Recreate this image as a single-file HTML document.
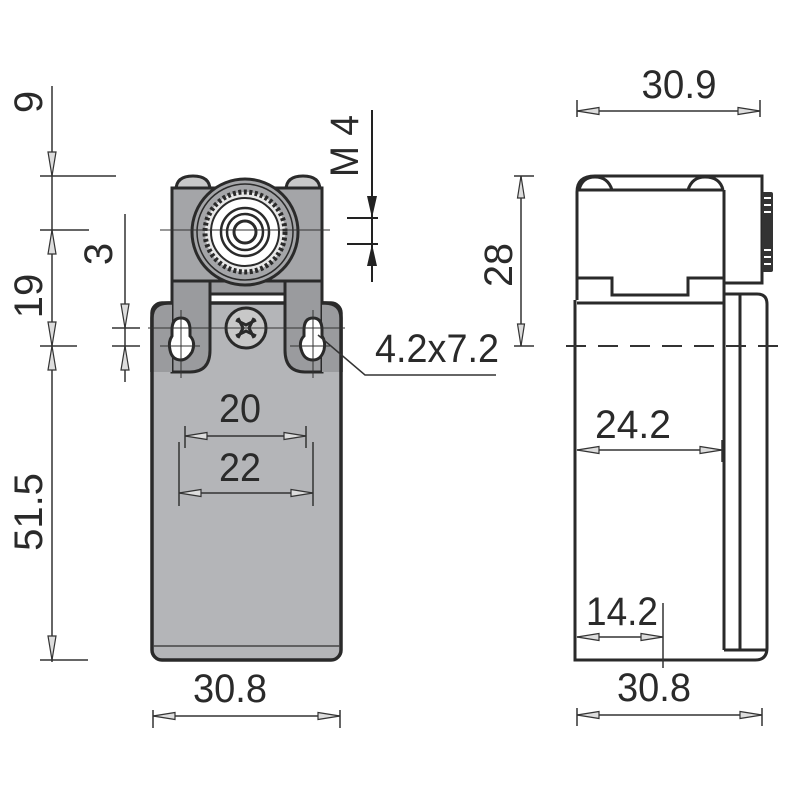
<!DOCTYPE html>
<html><head><meta charset="utf-8"><style>
html,body{margin:0;padding:0;background:#fff;width:800px;height:800px;overflow:hidden}
text{font-family:"Liberation Sans",sans-serif;fill:#2a2a2a;font-size:40px}
</style></head><body>
<svg width="800" height="800" viewBox="0 0 800 800" xmlns="http://www.w3.org/2000/svg">
<defs>
<marker id="a" viewBox="0 0 24 10" refX="23" refY="5" markerWidth="24" markerHeight="10" markerUnits="userSpaceOnUse" orient="auto-start-reverse">
<polygon points="23,5 1,1.5 1,8.5" fill="#ddd" stroke="#333" stroke-width="1.2"/>
</marker>
</defs>
<g stroke="#333" stroke-width="1.5" fill="none">
<line x1="52" y1="86" x2="52" y2="662"/>
<line x1="40" y1="176" x2="116" y2="176"/>
<line x1="40" y1="230" x2="89" y2="230"/>
<line x1="40" y1="346" x2="77" y2="346"/>
<line x1="40" y1="660" x2="88" y2="660"/>
<line x1="125" y1="214" x2="125" y2="382"/>
<line x1="112" y1="328" x2="140" y2="328"/>
<line x1="112" y1="346" x2="140" y2="346"/>
</g>
<g stroke="#333" stroke-width="1.2">
<polygon points="52,176 48,152 56,152" fill="#ddd"/>
<polygon points="52,230 48,254 56,254" fill="#ddd"/>
<polygon points="52,346 48,322 56,322" fill="#ddd"/>
<polygon points="52,346 48,370 56,370" fill="#ddd"/>
<polygon points="52,660 48,636 56,636" fill="#ddd"/>
<polygon points="125,328 121,304 129,304" fill="#ddd"/>
<polygon points="125,346 121,370 129,370" fill="#ddd"/>
</g>
<text transform="translate(42,102) rotate(-90)" text-anchor="middle">9</text>
<text transform="translate(42,296) rotate(-90)" text-anchor="middle">19</text>
<text transform="translate(42,512) rotate(-90)" text-anchor="middle">51.5</text>
<text transform="translate(112,254) rotate(-90)" text-anchor="middle">3</text>

<rect x="152" y="303" width="189" height="357" rx="10" fill="#b4b5b8" stroke="#2a2a2a" stroke-width="3.5"/>
<line x1="153" y1="646" x2="340" y2="646" stroke="#444" stroke-width="1.5"/>
<path d="M172,280 L210,280 L210,350 Q210,372 190,372 L172,372 Z" fill="#9a9b9e" stroke="#2a2a2a" stroke-width="3"/>
<path d="M322,280 L285,280 L285,350 Q285,372 305,372 L322,372 Z" fill="#9a9b9e" stroke="#2a2a2a" stroke-width="3"/>
<path d="M152,320 Q152,303 170,303 L172,303 L172,372 L152,372 Z" fill="#9a9b9e" stroke="none"/>
<path d="M341,320 Q341,303 323,303 L322,303 L322,372 L341,372 Z" fill="#9a9b9e" stroke="none"/>
<path d="M152,372 L152,318 Q152,303 168,303 L172,303" fill="none" stroke="#2a2a2a" stroke-width="3.5"/>
<path d="M341,372 L341,318 Q341,303 325,303 L322,303" fill="none" stroke="#2a2a2a" stroke-width="3.5"/>
<rect x="210" y="280" width="75" height="14" fill="#9a9b9e" stroke="#2a2a2a" stroke-width="3"/>
<path d="M176,190 Q176,176 193,176 Q210,176 210,190 Z" fill="#c8c8c8" stroke="#2a2a2a" stroke-width="3"/>
<path d="M286,190 Q286,176 303,176 Q320,176 320,190 Z" fill="#c8c8c8" stroke="#2a2a2a" stroke-width="3"/>
<rect x="172" y="188" width="150" height="93" fill="#a4a5a8" stroke="#2a2a2a" stroke-width="3"/>
<circle cx="245" cy="232" r="53" fill="#a4a5a8" stroke="#2a2a2a" stroke-width="3"/>
<circle cx="245" cy="232" r="48" fill="none" stroke="#2a2a2a" stroke-width="1.5"/>
<circle cx="245" cy="232" r="40" fill="#e8e8e8" stroke="#2a2a2a" stroke-width="5" stroke-dasharray="3 2.5"/>
<circle cx="245" cy="232" r="34" fill="#fff" stroke="#2a2a2a" stroke-width="2"/>
<circle cx="245" cy="232" r="24" fill="#fff" stroke="#2a2a2a" stroke-width="2.5"/>
<circle cx="245" cy="232" r="18" fill="#fff" stroke="#2a2a2a" stroke-width="2.5"/>
<circle cx="245" cy="232" r="11" fill="#fff" stroke="#2a2a2a" stroke-width="3"/>
<line x1="160" y1="230" x2="330" y2="230" stroke="#333" stroke-width="1"/>
<path d="M172,330 Q172,318 181,318 Q190,318 190,330 L190,336 Q196,342 192,352 Q187,360 181,360 Q172,360 170,350 Q168,342 172,336 Z" fill="#fff" stroke="#2a2a2a" stroke-width="3"/>
<path d="M304,330 Q304,318 313,318 Q322,318 322,330 L322,336 Q326,342 324,350 Q321,360 313,360 Q305,360 302,352 Q298,342 304,336 Z" fill="#fff" stroke="#2a2a2a" stroke-width="3"/>
<circle cx="246" cy="328" r="20" fill="#c8c8c8" stroke="#2a2a2a" stroke-width="3"/>
<path d="M236,320 L246,325 L256,320 M236,336 L246,331 L256,336 M238,318 L243,328 L238,338 M254,318 L249,328 L254,338" stroke="#2a2a2a" stroke-width="3" fill="none"/>
<g stroke="#333" stroke-width="1">
<line x1="148" y1="328" x2="345" y2="328"/>
<line x1="160" y1="346" x2="200" y2="346"/>
<line x1="290" y1="346" x2="330" y2="346"/>
<line x1="181" y1="310" x2="181" y2="378"/>
<line x1="313" y1="310" x2="313" y2="378"/>
</g>
<polyline points="318,335 365,375 496,375" fill="none" stroke="#333" stroke-width="1.5"/>
<text x="437" y="362" text-anchor="middle" textLength="124" lengthAdjust="spacingAndGlyphs">4.2x7.2</text>
<g stroke="#222" stroke-width="2">
<line x1="372" y1="110" x2="372" y2="282"/>
<line x1="347" y1="218" x2="378" y2="218"/>
<line x1="347" y1="244" x2="378" y2="244"/>
</g>
<polygon points="372,218 367,196 377,196" fill="#222"/>
<polygon points="372,244 367,266 377,266" fill="#222"/>
<text transform="translate(358,146) rotate(-90)" text-anchor="middle" textLength="62" lengthAdjust="spacingAndGlyphs">M 4</text>
<g stroke="#333" stroke-width="1.5">
<line x1="185" y1="436" x2="306" y2="436" marker-start="url(#a)" marker-end="url(#a)"/>
<line x1="185" y1="426" x2="185" y2="448"/>
<line x1="306" y1="426" x2="306" y2="448"/>
<line x1="179" y1="493" x2="313" y2="493" marker-start="url(#a)" marker-end="url(#a)"/>
<line x1="179" y1="442" x2="179" y2="506"/>
<line x1="313" y1="442" x2="313" y2="506"/>
</g>
<text x="240" y="422" text-anchor="middle" textLength="42" lengthAdjust="spacingAndGlyphs">20</text>
<text x="240" y="481" text-anchor="middle" textLength="42" lengthAdjust="spacingAndGlyphs">22</text>
<g stroke="#333" stroke-width="1.5">
<line x1="153" y1="716" x2="340" y2="716" marker-start="url(#a)" marker-end="url(#a)"/>
<line x1="153" y1="710" x2="153" y2="728"/>
<line x1="340" y1="710" x2="340" y2="728"/>
</g>
<text x="230" y="702" text-anchor="middle" textLength="74" lengthAdjust="spacingAndGlyphs">30.8</text>

<g stroke="#333" stroke-width="1.5">
<line x1="577" y1="111" x2="760" y2="111" marker-start="url(#a)" marker-end="url(#a)"/>
<line x1="577" y1="100" x2="577" y2="117"/>
<line x1="760" y1="100" x2="760" y2="117"/>
<line x1="521" y1="176" x2="521" y2="346" marker-start="url(#a)" marker-end="url(#a)"/>
<line x1="514" y1="176" x2="534" y2="176"/>
<line x1="514" y1="346" x2="534" y2="346"/>
</g>
<text x="679" y="98" text-anchor="middle" textLength="75" lengthAdjust="spacingAndGlyphs">30.9</text>
<text transform="translate(512,265) rotate(-90)" text-anchor="middle" textLength="44" lengthAdjust="spacingAndGlyphs">28</text>
<g stroke="#2a2a2a" stroke-width="3" fill="none">
<path d="M577,300 L577,192 Q577,176 595,176 L762,176 L762,283 L724,283"/>
<path d="M579,190 Q582,177 595,177 Q608,177 612,190 M688,190 Q692,177 705,177 Q720,177 723,190"/>
<line x1="577" y1="190" x2="724" y2="190"/>
<line x1="724" y1="190" x2="724" y2="650"/>
<path d="M577,278 L612,278 L612,295 L688,295 L688,278 L724,278"/>
<line x1="577" y1="303" x2="724" y2="303"/>
<path d="M575,300 L575,660 L755,660 Q767,660 767,648 L767,304 Q767,294 757,294 L724,294"/>
<path d="M740,294 L740,650 L724,650 L767,650"/>
</g>
<rect x="762" y="192" width="11" height="80" fill="#333" rx="2"/>
<g stroke="#fff" stroke-width="2">
<line x1="764" y1="198" x2="771" y2="198"/><line x1="764" y1="205" x2="771" y2="205"/><line x1="764" y1="212" x2="771" y2="212"/>
<line x1="764" y1="250" x2="771" y2="250"/><line x1="764" y1="257" x2="771" y2="257"/><line x1="764" y1="264" x2="771" y2="264"/>
</g>
<line x1="566" y1="346" x2="782" y2="346" stroke="#333" stroke-width="2" stroke-dasharray="20 12"/>
<g stroke="#333" stroke-width="1.5">
<line x1="577" y1="450" x2="722" y2="450" marker-start="url(#a)" marker-end="url(#a)"/>
<line x1="722" y1="440" x2="722" y2="462"/>
<line x1="577" y1="637" x2="663" y2="637" marker-start="url(#a)" marker-end="url(#a)"/>
<line x1="663" y1="603" x2="663" y2="668"/>
<line x1="577" y1="715" x2="762" y2="715" marker-start="url(#a)" marker-end="url(#a)"/>
<line x1="577" y1="708" x2="577" y2="726"/>
<line x1="762" y1="708" x2="762" y2="726"/>
</g>
<text x="633" y="438" text-anchor="middle" textLength="76" lengthAdjust="spacingAndGlyphs">24.2</text>
<text x="622" y="625" text-anchor="middle" textLength="72" lengthAdjust="spacingAndGlyphs">14.2</text>
<text x="654" y="701" text-anchor="middle" textLength="74" lengthAdjust="spacingAndGlyphs">30.8</text>
</svg>
</body></html>
